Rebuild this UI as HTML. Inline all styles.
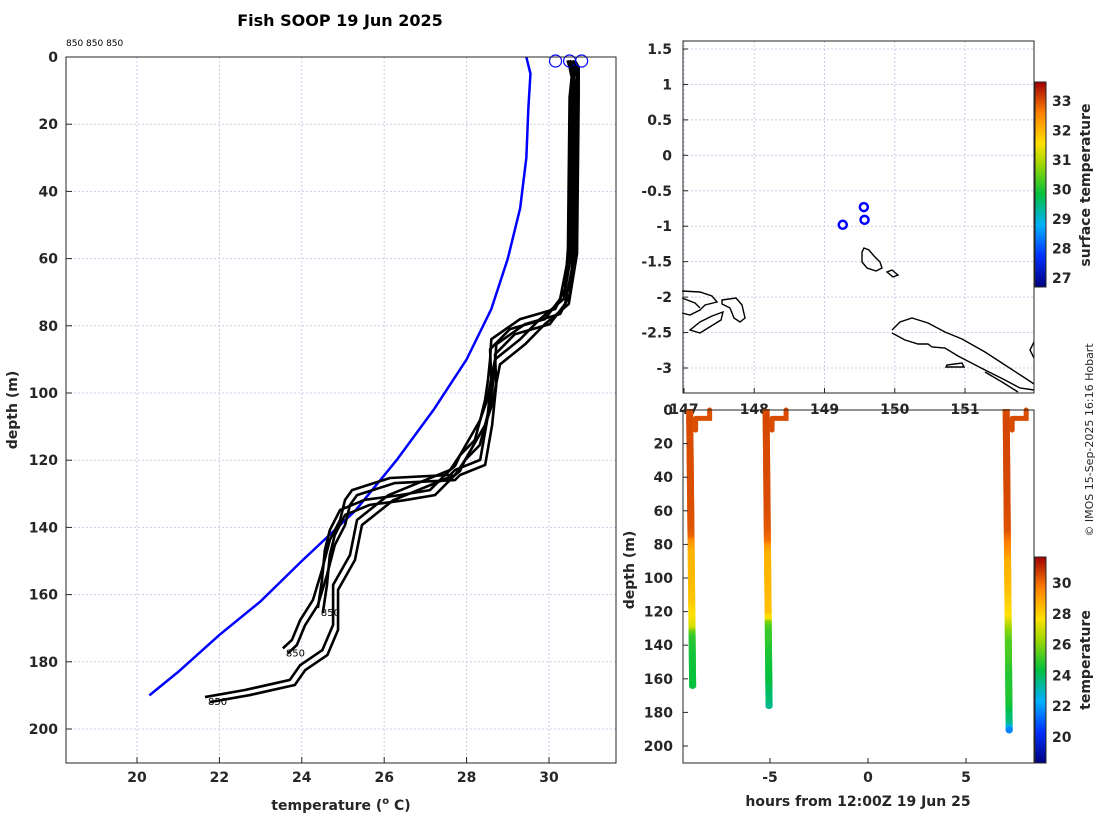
<!DOCTYPE html>
<html><head><meta charset="utf-8"><style>
body{margin:0;background:#fff;width:1100px;height:820px;overflow:hidden}
svg{font-family:"DejaVu Sans","Liberation Sans",sans-serif}
.t{font-weight:bold;font-size:14px;fill:#262626}
</style></head><body>
<svg id="c" width="1100" height="820" xmlns="http://www.w3.org/2000/svg">
<defs>
<linearGradient id="cb" x1="0" y1="1" x2="0" y2="0">
<stop offset="0" stop-color="#000080"/><stop offset="0.15" stop-color="#0030ff"/><stop offset="0.3" stop-color="#00b0ff"/><stop offset="0.45" stop-color="#00c040"/><stop offset="0.6" stop-color="#a0d800"/><stop offset="0.7" stop-color="#ffe000"/><stop offset="0.85" stop-color="#ff8000"/><stop offset="1" stop-color="#a00000"/>
</linearGradient>
</defs>
<text x="340" y="26" text-anchor="middle" font-weight="bold" font-size="16" fill="#000">Fish SOOP 19 Jun 2025</text>
<text x="66" y="46" font-size="9" fill="#000">850 850 850</text>
<text transform="translate(1093,440) rotate(-90)" text-anchor="middle" font-size="11" fill="#262626">© IMOS 15-Sep-2025 16:16 Hobart</text>
<g id="left"></g><g id="map"></g><g id="time"></g>
</svg>
<script>
// ---- data ----
const profileDepthsA=[1,3,6,12,57,69,75,78,84,90,96,102,108,114,118.5,121.7,122.9,128.9,130.4,131.8,134.8,140.8,146.7,155.7,164];
const profileTempsA=[30.45,30.5,30.55,30.5,30.46,30.39,30.15,29.3,28.6,28.57,28.52,28.45,28.33,28.2,27.84,27.72,27.6,27.11,26.38,25.53,24.93,24.68,24.56,24.49,24.39];
const profileDepthsB=[1,3,6,12,57,72,78,81,87,96,108,119.9,122.9,124.4,125.3,128.9,131.8,137.8,143.75,152.7,161.6,167.6,173.5,176];
const profileTempsB=[30.5,30.6,30.6,30.55,30.51,30.27,29.9,29.05,28.57,28.6,28.5,28.33,27.72,27.6,26.14,25.22,25.05,24.93,24.68,24.49,24.27,23.96,23.76,23.54];
const profileDepthsC=[1,3,6,12,57,72,78,84,90,102,108,118.5,122.9,130.4,137.8,148.2,157.1,169,176.5,181,185.4,188.4,190.5];
const profileTempsC=[30.5,30.55,30.6,30.6,30.56,30.36,29.78,29.3,28.69,28.5,28.33,27.84,27.6,26.1,25.34,25.17,24.76,24.76,24.5,23.96,23.71,22.62,21.65];
const climDepths=[0,5,15,30,45,60,75,90,105,120,135,150,162,172,183,190];
const climTemps=[29.45,29.55,29.5,29.45,29.3,29.0,28.6,28.0,27.2,26.3,25.3,24.0,23.0,22.0,21.0,20.3];
const dropLons=[149.26,149.57,149.56];
const dropLats=[-0.98,-0.91,-0.73];
const dropSST=[30.5,30.5,30.5];
const dropHours=[-9.1,-5.2,7.05];
const xTicksT=[20,22,24,26,28,30];
const yTicksD=[0,20,40,60,80,100,120,140,160,180,200];
const lonTicks=[147,148,149,150,151];
const latTicks=[1.5,1,0.5,0,-0.5,-1,-1.5,-2,-2.5,-3];
const hourTicks=[-5,0,5];
const sstTicks=[27,28,29,30,31,32,33];
const tempTicks=[20,22,24,26,28,30];

const NS='http://www.w3.org/2000/svg';
function mk(tag,attrs,parent,text){const e=document.createElementNS(NS,tag);for(const k in attrs)e.setAttribute(k,attrs[k]);if(text!==undefined)e.textContent=text;parent.appendChild(e);return e;}
function lin(d0,d1,r0,r1){return v=>r0+(v-d0)*(r1-r0)/(d1-d0);}
function cmap(f){const st=[[0,[0,0,128]],[.15,[0,48,255]],[.3,[0,176,255]],[.45,[0,192,64]],[.6,[160,216,0]],[.7,[255,224,0]],[.85,[255,128,0]],[1,[160,0,0]]];f=Math.max(0,Math.min(1,f));for(let i=1;i<st.length;i++){if(f<=st[i][0]){const a=st[i-1],b=st[i],u=(f-a[0])/(b[0]-a[0]);return 'rgb('+a[1].map((c,j)=>Math.round(c+u*(b[1][j]-c))).join(',')+')';}}return 'rgb(160,0,0)';}
function grid(g,x0,y0,x1,y1,xs,ys){xs.forEach(x=>{const l=mk('line',{x1:x,x2:x,y1:y0,y2:y1,stroke:'#c8cfe8','stroke-width':1,'stroke-dasharray':'2,2'},g);});ys.forEach(y=>{const l=mk('line',{x1:x0,x2:x1,y1:y,y2:y,stroke:'#c8cfe8','stroke-width':1,'stroke-dasharray':'2,2'},g);});}

// ---- left profile plot ----
(function(){
const g=document.getElementById('left');
const X=lin(20,30,137,549),Y=lin(0,200,57,729);
grid(g,66,57,616,763,xTicksT.map(X),yTicksD.map(Y));
const clim=mk('polyline',{points:climDepths.map((d,i)=>X(climTemps[i])+','+Y(d)).join(' '),fill:'none',stroke:'#0000ff','stroke-width':2.5},g);

const profs=[[profileDepthsA,profileTempsA],[profileDepthsB,profileTempsB],[profileDepthsC,profileTempsC]];
profs.forEach((p,k)=>{[[0,0],[0.12,1.5]].forEach(o=>{
 const l=mk('polyline',{points:p[0].map((d,i)=>X(p[1][i]+o[0])+','+Y(d+(i<4?0:o[1]))).join(' '),fill:'none',stroke:'#000','stroke-width':2.6,'stroke-linejoin':'round'},g);
 });
 const n=p[0].length-1;
 const lb=mk('text',{x:X(p[1][n])+3,y:Y(p[0][n])+8,'font-size':10,fill:'#000'},g,'850');
 
 const c=mk('circle',{cx:X(p[1][0])+(k-1)*12,cy:Y(0)+4,r:6,fill:'none',stroke:'#0000ff','stroke-width':1.2},g);
 
});
mk('rect',{x:66,y:57,width:550,height:706,fill:'none',stroke:'#262626','stroke-width':1},g);
xTicksT.forEach(t=>{const e=mk('text',{x:X(t),y:782,'text-anchor':'middle',class:'t'},g,t);mk('line',{x1:X(t),x2:X(t),y1:763,y2:757,stroke:'#262626'},g);});
yTicksD.forEach(t=>{const e=mk('text',{x:58,y:Y(t)+5,'text-anchor':'end',class:'t'},g,t);mk('line',{x1:66,x2:72,y1:Y(t),y2:Y(t),stroke:'#262626'},g);});
const xt=mk('text',{x:341,y:810,'text-anchor':'middle',class:'t','font-size':16},g);
xt.innerHTML='temperature (<tspan font-size="10" dy="-6">o</tspan><tspan dy="6"> C)</tspan>';

const yt=mk('text',{transform:'translate(17,410) rotate(-90)','text-anchor':'middle',class:'t','font-size':16},g,'depth (m)');

})();

// ---- map ----
(function(){
const g=document.getElementById('map');
const X=lin(147,151,684,965),Y=lin(1.5,-3,49,368);
grid(g,683,41,1034,393,lonTicks.map(X),latTicks.map(Y));
const coasts=['M864 248 L869 250 L874 256 L880 262 L882 268 L876 271 L867 268 L862 262 L862 252 Z','M887 272 L892 270 L898 275 L893 277 Z',
'M682 291 L700 292 L712 296 L717 302 L705 305 L700 310 L690 315 L682 313','M682 298 L695 303 L700 308','M722 300 L736 298 L742 305 L745 318 L740 322 L734 318 L730 308 L722 304 Z','M690 330 L700 322 L712 316 L723 312 L721 320 L708 328 L700 333 Z',
'M892 330 L900 322 L912 318 L928 323 L945 332 L962 339 L985 352 L1005 365 L1025 378 L1034 384','M892 333 L905 340 L918 344 L928 344 L932 347 L945 348 L958 356 L985 370 L1005 380 L1020 388 L1034 390','M985 372 L1002 382 L1018 392','M947 365 L962 363 L964 367 L946 367 Z','M1034 342 L1030 350 L1034 358'];
coasts.forEach(d=>{const p=mk('path',{d:d,fill:'none',stroke:'#000','stroke-width':1.4},g);});
dropLons.forEach((lo,i)=>{const c=mk('circle',{cx:X(lo),cy:Y(dropLats[i]),r:4,fill:'none',stroke:'#0000ff','stroke-width':2.5},g);});
mk('rect',{x:683,y:41,width:351,height:352,fill:'none',stroke:'#262626'},g);
latTicks.forEach(t=>{const e=mk('text',{x:672,y:Y(t)+5,'text-anchor':'end',class:'t'},g,t);mk('line',{x1:683,x2:688,y1:Y(t),y2:Y(t),stroke:'#262626'},g);});
lonTicks.forEach(t=>{const e=mk('text',{x:X(t),y:414,'text-anchor':'middle',class:'t'},g,t);mk('line',{x1:X(t),x2:X(t),y1:393,y2:388,stroke:'#262626'},g);});
const C=lin(27,33,278,101);
const cb=mk('rect',{x:1035,y:82,width:11,height:205,fill:'url(#cb)',stroke:'#262626'},g);
sstTicks.forEach(t=>{const e=mk('text',{x:1052,y:C(t)+5,class:'t','font-size':12},g,t);});
const ct=mk('text',{transform:'translate(1090,185) rotate(-90)','text-anchor':'middle',class:'t','font-size':13},g,'surface temperature');
})();

// ---- time-depth panel ----
(function(){
const g=document.getElementById('time');
const X=lin(0,5,868,966),Y=lin(0,200,410,746),C=lin(18.3,31.7,0,1);
const profs=[[profileDepthsA,profileTempsA],[profileDepthsB,profileTempsB],[profileDepthsC,profileTempsC]];
profs.forEach((p,k)=>{const x0=X(dropHours[k]);
 const h=mk('path',{d:`M${x0+6} ${Y(5)} L${x0+6} ${Y(12)} M${x0+6} ${Y(5)} L${x0+20} ${Y(5)} L${x0+20} ${Y(0)}`,fill:'none',stroke:cmap(C(p[1][0])),'stroke-width':5,'stroke-linecap':'round'},g);
 
 const maxd=p[0][p[0].length-1];
 for(let d=0;d<=maxd;d+=1){let j=0;while(j<p[0].length-2&&p[0][j+1]<d)j++;const u=Math.max(0,Math.min(1,(d-p[0][j])/(p[0][j+1]-p[0][j])));const T=p[1][j]+u*(p[1][j+1]-p[1][j]);
  const s=mk('rect',{x:x0-3.5+d/maxd*3,y:Y(d)-1,width:7,height:3,fill:cmap(C(T))},g);
  }
 mk('ellipse',{cx:x0+3,cy:Y(maxd),rx:3.5,ry:3.5,fill:cmap(C(p[1][p[1].length-1]))},g);
});
mk('rect',{x:683,y:410,width:351,height:353,fill:'none',stroke:'#262626'},g);
yTicksD.forEach(t=>{const e=mk('text',{x:673,y:Y(t)+5,'text-anchor':'end',class:'t'},g,t);mk('line',{x1:683,x2:688,y1:Y(t),y2:Y(t),stroke:'#262626'},g);});
hourTicks.forEach(t=>{const e=mk('text',{x:X(t),y:782,'text-anchor':'middle',class:'t'},g,t);mk('line',{x1:X(t),x2:X(t),y1:763,y2:758,stroke:'#262626'},g);});
const xt=mk('text',{x:858,y:806,'text-anchor':'middle',class:'t','font-size':16},g,'hours from 12:00Z 19 Jun 25');
const yt=mk('text',{transform:'translate(634,570) rotate(-90)','text-anchor':'middle',class:'t','font-size':16},g,'depth (m)');
const CB=lin(20,30,737,583);
const cb=mk('rect',{x:1035,y:557,width:11,height:206,fill:'url(#cb)',stroke:'#262626'},g);
tempTicks.forEach(t=>{const e=mk('text',{x:1052,y:CB(t)+5,class:'t','font-size':12},g,t);});
const ct=mk('text',{transform:'translate(1090,660) rotate(-90)','text-anchor':'middle',class:'t','font-size':13},g,'temperature');
})();
</script>
</body></html>
